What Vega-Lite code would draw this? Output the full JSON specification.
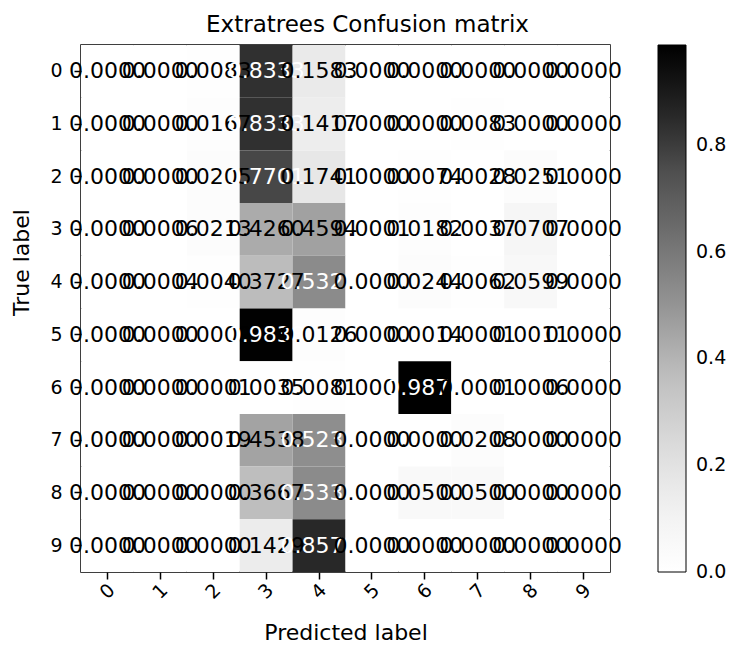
{
  "$schema": "https://vega.github.io/schema/vega-lite/v6.json",
  "width": 529,
  "height": 527,
  "autosize": {"type": "none"},
  "padding": {"left": 81, "top": 45, "right": 128, "bottom": 80},
  "background": "white",
  "title": {"text": "Extratrees Confusion matrix", "fontSize": 23, "font": "DejaVu Sans", "fontWeight": "normal", "color": "black", "offset": 8, "dx": 22},
  "datasets": {
    "cm": [
      {"t":0,"p":0,"v":0},{"t":0,"p":1,"v":0},{"t":0,"p":2,"v":0.0083},{"t":0,"p":3,"v":0.8333},{"t":0,"p":4,"v":0.1583},{"t":0,"p":5,"v":0},{"t":0,"p":6,"v":0},{"t":0,"p":7,"v":0},{"t":0,"p":8,"v":0},{"t":0,"p":9,"v":0},
      {"t":1,"p":0,"v":0},{"t":1,"p":1,"v":0},{"t":1,"p":2,"v":0.0167},{"t":1,"p":3,"v":0.8333},{"t":1,"p":4,"v":0.1417},{"t":1,"p":5,"v":0},{"t":1,"p":6,"v":0},{"t":1,"p":7,"v":0.0083},{"t":1,"p":8,"v":0},{"t":1,"p":9,"v":0},
      {"t":2,"p":0,"v":0},{"t":2,"p":1,"v":0},{"t":2,"p":2,"v":0.0205},{"t":2,"p":3,"v":0.7701},{"t":2,"p":4,"v":0.1741},{"t":2,"p":5,"v":0},{"t":2,"p":6,"v":0.0074},{"t":2,"p":7,"v":0.0028},{"t":2,"p":8,"v":0.0251},{"t":2,"p":9,"v":0},
      {"t":3,"p":0,"v":0},{"t":3,"p":1,"v":0.0006},{"t":3,"p":2,"v":0.0213},{"t":3,"p":3,"v":0.4260},{"t":3,"p":4,"v":0.4594},{"t":3,"p":5,"v":0.0001},{"t":3,"p":6,"v":0.0182},{"t":3,"p":7,"v":0.0037},{"t":3,"p":8,"v":0.0707},{"t":3,"p":9,"v":0},
      {"t":4,"p":0,"v":0},{"t":4,"p":1,"v":0.0004},{"t":4,"p":2,"v":0.0040},{"t":4,"p":3,"v":0.3727},{"t":4,"p":4,"v":0.5324},{"t":4,"p":5,"v":0},{"t":4,"p":6,"v":0.0244},{"t":4,"p":7,"v":0.0062},{"t":4,"p":8,"v":0.0599},{"t":4,"p":9,"v":0},
      {"t":5,"p":0,"v":0},{"t":5,"p":1,"v":0},{"t":5,"p":2,"v":0.0009},{"t":5,"p":3,"v":0.9838},{"t":5,"p":4,"v":0.0126},{"t":5,"p":5,"v":0},{"t":5,"p":6,"v":0.0014},{"t":5,"p":7,"v":0.0001},{"t":5,"p":8,"v":0.0011},{"t":5,"p":9,"v":0},
      {"t":6,"p":0,"v":0},{"t":6,"p":1,"v":0},{"t":6,"p":2,"v":0.0001},{"t":6,"p":3,"v":0.0035},{"t":6,"p":4,"v":0.0081},{"t":6,"p":5,"v":0},{"t":6,"p":6,"v":0.9876},{"t":6,"p":7,"v":0.0001},{"t":6,"p":8,"v":0.0006},{"t":6,"p":9,"v":0},
      {"t":7,"p":0,"v":0},{"t":7,"p":1,"v":0},{"t":7,"p":2,"v":0.0019},{"t":7,"p":3,"v":0.4538},{"t":7,"p":4,"v":0.5235},{"t":7,"p":5,"v":0},{"t":7,"p":6,"v":0},{"t":7,"p":7,"v":0.0208},{"t":7,"p":8,"v":0},{"t":7,"p":9,"v":0},
      {"t":8,"p":0,"v":0},{"t":8,"p":1,"v":0},{"t":8,"p":2,"v":0},{"t":8,"p":3,"v":0.3667},{"t":8,"p":4,"v":0.5333},{"t":8,"p":5,"v":0},{"t":8,"p":6,"v":0.0500},{"t":8,"p":7,"v":0.0500},{"t":8,"p":8,"v":0},{"t":8,"p":9,"v":0},
      {"t":9,"p":0,"v":0},{"t":9,"p":1,"v":0},{"t":9,"p":2,"v":0},{"t":9,"p":3,"v":0.1429},{"t":9,"p":4,"v":0.8571},{"t":9,"p":5,"v":0},{"t":9,"p":6,"v":0},{"t":9,"p":7,"v":0},{"t":9,"p":8,"v":0},{"t":9,"p":9,"v":0}
    ]
  },
  "data": {"name": "cm"},
  "encoding": {
    "x": {
      "field": "p", "type": "ordinal", "title": "Predicted label",
      "scale": {"paddingInner": 0, "paddingOuter": 0},
      "axis": {"labelAngle": -45, "labelAlign": "center", "labelBaseline": "middle", "labelPadding": 12, "titleY": 50, "titleBaseline": "top"}
    },
    "y": {
      "field": "t", "type": "ordinal", "title": "True label",
      "scale": {"paddingInner": 0, "paddingOuter": 0},
      "axis": {"labelAngle": 0, "labelPadding": 12, "titleX": -60, "titleY": 217, "titleBaseline": "middle", "titleAngle": -90, "titleAlign": "center"}
    }
  },
  "layer": [
    {
      "mark": {"type": "rect"},
      "encoding": {
        "color": {
          "field": "v", "type": "quantitative",
          "scale": {
            "domain": [-0.0002, 0.12345, 0.2469, 0.37035, 0.4938, 0.61725, 0.7407, 0.86415, 0.9876],
            "range": ["#ffffff", "#f0f0f0", "#d9d9d9", "#bdbdbd", "#969696", "#737373", "#525252", "#252525", "#000000"],
            "interpolate": "rgb"
          },
          "legend": {
            "orient": "none", "legendX": 577, "legendY": 0, "direction": "vertical",
            "gradientLength": 527, "gradientThickness": 28,
            "gradientStrokeColor": "black", "gradientStrokeWidth": 1,
            "values": [0, 0.2, 0.4, 0.6, 0.8], "format": ".1f",
            "labelFontSize": 19, "labelFont": "DejaVu Sans", "labelColor": "black",
            "labelBaseline": "middle",
            "labelOffset": 10, "labelOverlap": false, "title": null
          }
        }
      }
    },
    {
      "mark": {"type": "text", "fontSize": 22, "font": "DejaVu Sans"},
      "encoding": {
        "text": {"field": "v", "type": "quantitative", "format": ".4f"},
        "color": {"condition": {"test": "datum.v >= 0.4938", "value": "white"}, "value": "black"}
      }
    }
  ],
  "config": {
    "view": {"stroke": "black", "strokeWidth": 1.5},
    "axis": {
      "labelFont": "DejaVu Sans", "labelFontSize": 19, "labelColor": "black",
      "titleFont": "DejaVu Sans", "titleFontSize": 22, "titleFontWeight": "normal", "titleColor": "black",
      "tickColor": "black", "tickSize": 7, "tickWidth": 1.5, "domain": false, "grid": false
    }
  }
}
